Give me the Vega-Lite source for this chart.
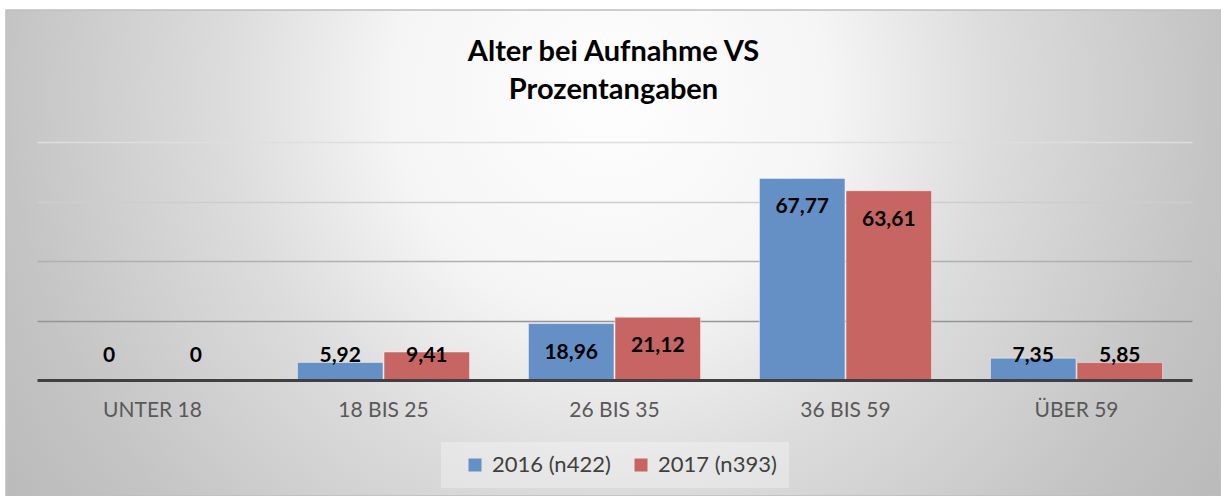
{
  "$schema": "https://vega.github.io/schema/vega-lite/v6.json",
  "width": 1215,
  "height": 486,
  "autosize": {"type": "none"},
  "padding": {"left": 6, "top": 10, "right": 0, "bottom": 0},
  "background": "#ffffff",
  "view": {
    "stroke": "#bfbfbf",
    "strokeWidth": 1.5,
    "fill": {
      "gradient": "radial",
      "x1": 0.497, "y1": 0.37, "r1": 0,
      "x2": 0.497, "y2": 0.37, "r2": 0.6,
      "stops": [
        {"offset": 0, "color": "#fefefe"},
        {"offset": 0.3, "color": "#f5f5f5"},
        {"offset": 0.53, "color": "#dcdcdc"},
        {"offset": 0.83, "color": "#c4c4c4"},
        {"offset": 1, "color": "#bababa"}
      ]
    }
  },
  "config": {
    "locale": {"number": {"decimal": ",", "thousands": ".", "grouping": [3], "currency": ["", " €"]}},
    "font": "Lato"
  },
  "title": {
    "text": ["Alter bei Aufnahme VS", "Prozentangaben"],
    "font": "Lato",
    "fontSize": 29,
    "fontWeight": "bold",
    "color": "#000000",
    "anchor": "middle",
    "frame": "group",
    "baseline": "top",
    "lineHeight": 38,
    "offset": -95
  },
  "data": {
    "values": [
      {"Alter": "UNTER 18", "Jahr": "2016 (n422)", "Prozent": 0},
      {"Alter": "UNTER 18", "Jahr": "2017 (n393)", "Prozent": 0},
      {"Alter": "18 BIS 25", "Jahr": "2016 (n422)", "Prozent": 5.92},
      {"Alter": "18 BIS 25", "Jahr": "2017 (n393)", "Prozent": 9.41},
      {"Alter": "26 BIS 35", "Jahr": "2016 (n422)", "Prozent": 18.96},
      {"Alter": "26 BIS 35", "Jahr": "2017 (n393)", "Prozent": 21.12},
      {"Alter": "36 BIS 59", "Jahr": "2016 (n422)", "Prozent": 67.77},
      {"Alter": "36 BIS 59", "Jahr": "2017 (n393)", "Prozent": 63.61},
      {"Alter": "ÜBER 59", "Jahr": "2016 (n422)", "Prozent": 7.35},
      {"Alter": "ÜBER 59", "Jahr": "2017 (n393)", "Prozent": 5.85}
    ]
  },
  "encoding": {
    "x": {
      "field": "Alter",
      "type": "nominal",
      "sort": ["UNTER 18", "18 BIS 25", "26 BIS 35", "36 BIS 59", "ÜBER 59"],
      "scale": {"range": [31, 1186], "paddingInner": 0.255, "paddingOuter": 0.1275},
      "axis": {
        "title": null,
        "orient": "bottom",
        "offset": -116,
        "labelAngle": 0,
        "labelFont": "Lato",
        "labelFontSize": 21,
        "labelColor": "#595959",
        "labelPadding": 19,
        "ticks": false,
        "grid": false,
        "domainColor": "#404040",
        "domainWidth": 3,
        "zindex": 2
      }
    },
    "xOffset": {
      "field": "Jahr",
      "type": "nominal",
      "scale": {"paddingInner": 0.012, "paddingOuter": 0}
    }
  },
  "layer": [
    {
      "mark": {"type": "bar", "stroke": "#ffffff", "strokeOpacity": 0.45, "strokeWidth": 1},
      "encoding": {
        "y": {
          "field": "Prozent",
          "type": "quantitative",
          "scale": {"domain": [-38.99, 124.37], "nice": false, "zero": false},
          "axis": {
            "title": null,
            "labels": false,
            "ticks": false,
            "domain": false,
            "grid": true,
            "values": [20, 40, 60, 80],
            "gridWidth": 1.5,
            "gridColor": {
              "condition": [
                {"test": "datum.value >= 80", "value": "#dedede"},
                {"test": "datum.value >= 60", "value": "#cdcdcd"},
                {"test": "datum.value >= 40", "value": "#b0b0b0"}
              ],
              "value": "#959595"
            }
          }
        },
        "color": {
          "field": "Jahr",
          "type": "nominal",
          "scale": {"domain": ["2016 (n422)", "2017 (n393)"], "range": ["#6490c6", "#c76563"]},
          "legend": {
            "title": null,
            "orient": "none",
            "direction": "horizontal",
            "legendX": 435,
            "legendY": 432,
            "padding": 12,
            "fillColor": "rgba(255,255,255,0.3)",
            "symbolType": "square",
            "symbolSize": 169,
            "symbolOffset": 11,
            "symbolStrokeWidth": 0,
            "labelFont": "Lato",
            "labelFontSize": 22,
            "labelColor": "#404040",
            "labelOffset": 6,
            "columnPadding": 8
          }
        }
      }
    },
    {
      "transform": [{"filter": "datum.Prozent >= 15"}],
      "mark": {"type": "text", "baseline": "middle", "dy": 29, "fontWeight": "bold", "fontSize": 21, "font": "Lato", "color": "#000000"},
      "encoding": {
        "y": {"field": "Prozent", "type": "quantitative"},
        "text": {"field": "Prozent", "type": "quantitative", "format": "~f"}
      }
    },
    {
      "transform": [{"filter": "datum.Prozent < 15"}],
      "mark": {"type": "text", "baseline": "middle", "dy": -24, "fontWeight": "bold", "fontSize": 21, "font": "Lato", "color": "#000000"},
      "encoding": {
        "y": {"datum": 0, "type": "quantitative"},
        "text": {"field": "Prozent", "type": "quantitative", "format": "~f"}
      }
    }
  ]
}
